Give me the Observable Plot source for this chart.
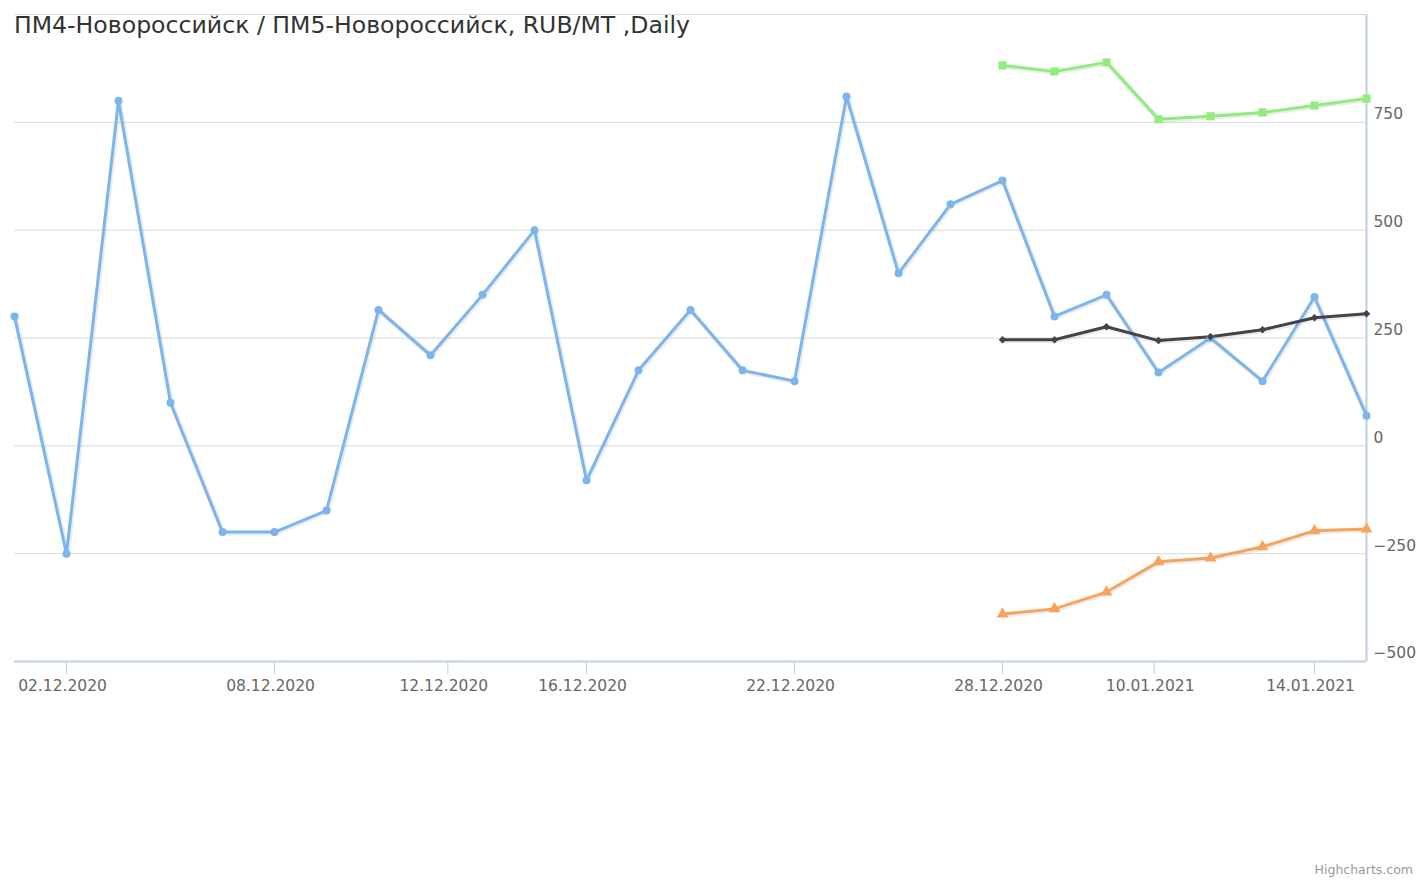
<!DOCTYPE html>
<html><head><meta charset="utf-8">
<script src="https://cdn.jsdelivr.net/npm/d3@7"></script>
<script src="https://cdn.jsdelivr.net/npm/@observablehq/plot@0.6"></script>
<style>
body{margin:0;background:#fff;}
#wrap{position:relative;width:1427px;height:883px;font-family:"DejaVu Sans",sans-serif;}
#title{position:absolute;left:14px;top:11px;font-size:23.6px;line-height:28px;color:#333;white-space:nowrap;}
#credit{position:absolute;right:14px;top:862px;font-size:12.5px;color:#999;}
</style></head><body>
<div id="wrap"><div id="chart"></div><div id="title">ПМ4-Новороссийск / ПМ5-Новороссийск, RUB/MT ,Daily</div><div id="credit">Highcharts.com</div></div>
<script>
// ---- data ----
const dates = ["01.12.2020","02.12.2020","03.12.2020","04.12.2020","07.12.2020","08.12.2020","09.12.2020","10.12.2020","11.12.2020","14.12.2020","15.12.2020","16.12.2020","17.12.2020","18.12.2020","21.12.2020","22.12.2020","23.12.2020","24.12.2020","25.12.2020","28.12.2020","29.12.2020","30.12.2020","11.01.2021","12.01.2021","13.01.2021","14.01.2021","15.01.2021"];
const spread = [300,-250,800,100,-200,-200,-150,315,210,350,500,-80,175,315,175,150,810,400,560,615,300,350,170,250,150,345,70];
const forecastDates = ["28.12.2020","29.12.2020","30.12.2020","11.01.2021","12.01.2021","13.01.2021","14.01.2021","15.01.2021"];
const upperBand = [882,868,889,757,764,773,789,805];
const midBand = [246,246,276,244,253,269,297,306];
const lowerBand = [-390,-378,-339,-269,-260,-234,-197,-193];
const xTickLabels = ["02.12.2020","08.12.2020","12.12.2020","16.12.2020","22.12.2020","28.12.2020","10.01.2021","14.01.2021"];
const yTicks = [-500,-250,0,250,500,750];
const yGrid = [-500,-250,0,250,500,750,1000];

// ---- ordinal (business-day) positions ----
const parse = d3.timeParse("%d.%m.%Y");
const dt = dates.map(parse);
function ordinalPos(t){
  for(let i=0;i<dt.length-1;i++){
    if(t>=dt[i] && t<dt[i+1]) return i + (t-dt[i])/(dt[i+1]-dt[i]);
  }
  return dt.length-1;
}
const tickPos = xTickLabels.map(s=>ordinalPos(parse(s)));
const labelByPos = new Map(tickPos.map((p,i)=>[p,xTickLabels[i]]));

const mainData = spread.map((v,i)=>({x:i,y:v}));
const fIdx = forecastDates.map(d=>dates.indexOf(d));
const upData = upperBand.map((v,i)=>({x:fIdx[i],y:v}));
const midData = midBand.map((v,i)=>({x:fIdx[i],y:v}));
const lowData = lowerBand.map((v,i)=>({x:fIdx[i],y:v}));

const series = [
  {data:mainData,color:"#7cb5ec",symbol:"circle",r:4},
  {data:upData,color:"#90ed7d",symbol:"square",r:4.6},
  {data:midData,color:"#434348",symbol:"diamond2",r:3.4},
  {data:lowData,color:"#f7a35c",symbol:"triangle",r:4.4}
];
const lineMarks = [];
for(const s of series){
  lineMarks.push(Plot.line(s.data,{x:"x",y:"y",stroke:"#000",strokeOpacity:0.07,strokeWidth:5,dx:1,dy:1}));
  lineMarks.push(Plot.line(s.data,{x:"x",y:"y",stroke:s.color,strokeWidth:3}));
}
for(const s of series){
  lineMarks.push(Plot.dot(s.data,{x:"x",y:"y",fill:s.color,stroke:"none",symbol:()=>s.symbol,r:s.r}));
}

const chart = Plot.plot({
  width:1427,height:883,
  marginTop:14,marginBottom:222,marginLeft:14,marginRight:61,
  style:{fontFamily:"DejaVu Sans, sans-serif",fontSize:"15.5px",background:"#fff"},
  x:{type:"linear",domain:[0,26]},
  y:{domain:[-500,1000]},
  marks:[
    Plot.gridY(yGrid,{stroke:"#d8d8d8",strokeOpacity:1}),
    Plot.axisY(yTicks,{anchor:"right",tickSize:0,tickPadding:7,dy:-8,fill:"#666",label:null}),
    Plot.axisX(tickPos,{anchor:"bottom",tickSize:13,stroke:"#c0d0e3",label:null,tickFormat:()=>""}),
    Plot.axisX(tickPos,{anchor:"bottom",tickSize:0,tickPadding:18,dx:-4,fill:"#666",label:null,tickFormat:d=>labelByPos.get(d)}),
    Plot.ruleY([-500],{stroke:"#c0d0e3",strokeWidth:2}),
    Plot.ruleX([26],{stroke:"#c0d0e3",strokeWidth:2}),
    ...lineMarks
  ]
});
document.getElementById("chart").appendChild(chart);
</script>
</body></html>
